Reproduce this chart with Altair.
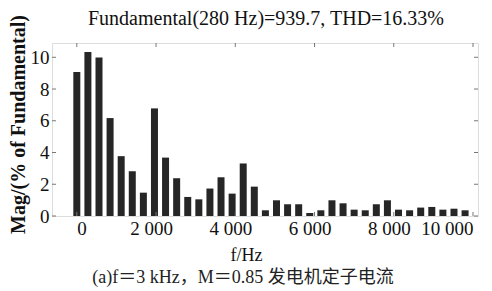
import altair as alt
import pandas as pd

# harmonic spectrum: bars every 280 Hz starting at 0 Hz
bar_step_hz = 280
magnitudes = [9.07, 10.34, 9.98, 6.17, 3.77, 2.82, 1.47, 6.78, 3.68, 2.38,
              1.20, 1.05, 1.73, 2.44, 1.41, 3.31, 1.85, 0.36, 0.99, 0.74,
              0.74, 0.19, 0.36, 0.99, 0.80, 0.40, 0.36, 0.74, 0.99, 0.40,
              0.36, 0.53, 0.57, 0.40, 0.46, 0.36]
frequencies = [k * bar_step_hz for k in range(len(magnitudes))]

x_ticks = [0, 2000, 4000, 6000, 8000, 10000]
y_ticks = [0, 2, 4, 6, 8, 10]

title_text = "Fundamental(280 Hz)=939.7, THD=16.33%"
y_title = "Mag/(% of Fundamental)"
x_title = "f/Hz"
caption = "(a)f＝3 kHz，M＝0.85 发电机定子电流"

W, H = 426, 173
SERIF = "Liberation Serif"

bars_df = pd.DataFrame({"freq": frequencies, "mag": magnitudes})
xt_df = pd.DataFrame({"freq": x_ticks})
yt_df = pd.DataFrame({"mag": y_ticks})

xscale = alt.Scale(domain=[-500, 10000], nice=False, zero=False)
yscale = alt.Scale(domain=[0, 10.9], nice=False)

x_axis = alt.Axis(values=x_ticks, ticks=False, domain=False, grid=False,
                  labelExpr="replace(format(datum.value, ','), ',', ' ')",
                  labelFont=SERIF, labelFontSize=19, labelColor="#111",
                  labelPadding=3, labelFlush=False,
                  labelAlign={"condition": [
                      {"test": "datum.value == 0", "value": "left"},
                      {"test": "datum.value == 10000", "value": "right"}],
                      "value": "center"},
                  labelOffset={"condition": {"test": "datum.value == 0 || datum.value == 10000",
                                             "value": 0}, "value": -5},
                  title=x_title, titleFont=SERIF, titleFontSize=18,
                  titleFontWeight="normal", titleColor="#111",
                  titleX=194, titleY=39, titleBaseline="middle")
y_axis = alt.Axis(values=y_ticks, ticks=False, domain=False, grid=False,
                  labelFont=SERIF, labelFontSize=19, labelColor="#111",
                  labelPadding=3, labelFlush=False,
                  title=y_title, titleFont=SERIF, titleFontSize=20,
                  titleFontWeight="bold", titleColor="#111",
                  titleX=-34, titleY=81, titleBaseline="middle",
                  titleAngle=-90)

X = alt.X("freq:Q", scale=xscale, axis=x_axis)
Y = alt.Y("mag:Q", scale=yscale, axis=y_axis)

bars = alt.Chart(bars_df).mark_bar(size=7, color="#262626").encode(x=X, y=Y)

tick_color = "#777"
xt_bottom = alt.Chart(xt_df).mark_rule(color=tick_color, strokeWidth=1).encode(
    x=X, y=alt.value(H), y2=alt.value(H - 4))
xt_top = alt.Chart(xt_df).mark_rule(color=tick_color, strokeWidth=1).encode(
    x=X, y=alt.value(0), y2=alt.value(4))
yt_left = alt.Chart(yt_df).mark_rule(color=tick_color, strokeWidth=1).encode(
    y=Y, x=alt.value(0), x2=alt.value(4))
yt_right = alt.Chart(yt_df).mark_rule(color=tick_color, strokeWidth=1).encode(
    y=Y, x=alt.value(W), x2=alt.value(W - 4))

ttl = alt.Chart(pd.DataFrame({"c": [title_text]})).mark_text(
    font=SERIF, fontSize=20, color="#111",
    align="center", baseline="middle").encode(
    text="c:N", x=alt.value(214), y=alt.value(-24))

cap = alt.Chart(pd.DataFrame({"c": [caption]})).mark_text(
    font=SERIF + ", Noto Sans CJK SC", fontSize=18, color="#222",
    align="center", baseline="middle").encode(
    text="c:N", x=alt.value(191), y=alt.value(235))

chart = alt.layer(bars, xt_bottom, xt_top, yt_left, yt_right, ttl, cap).properties(
    width=W, height=H,
    autosize=alt.AutoSizeParams(type="none"),
    padding={"left": 44, "top": 35, "right": 6, "bottom": 80},
).configure_view(stroke="#888", strokeWidth=1).configure(background="white")

chart.save("out.html", embed_options={"renderer": "svg", "actions": False})
